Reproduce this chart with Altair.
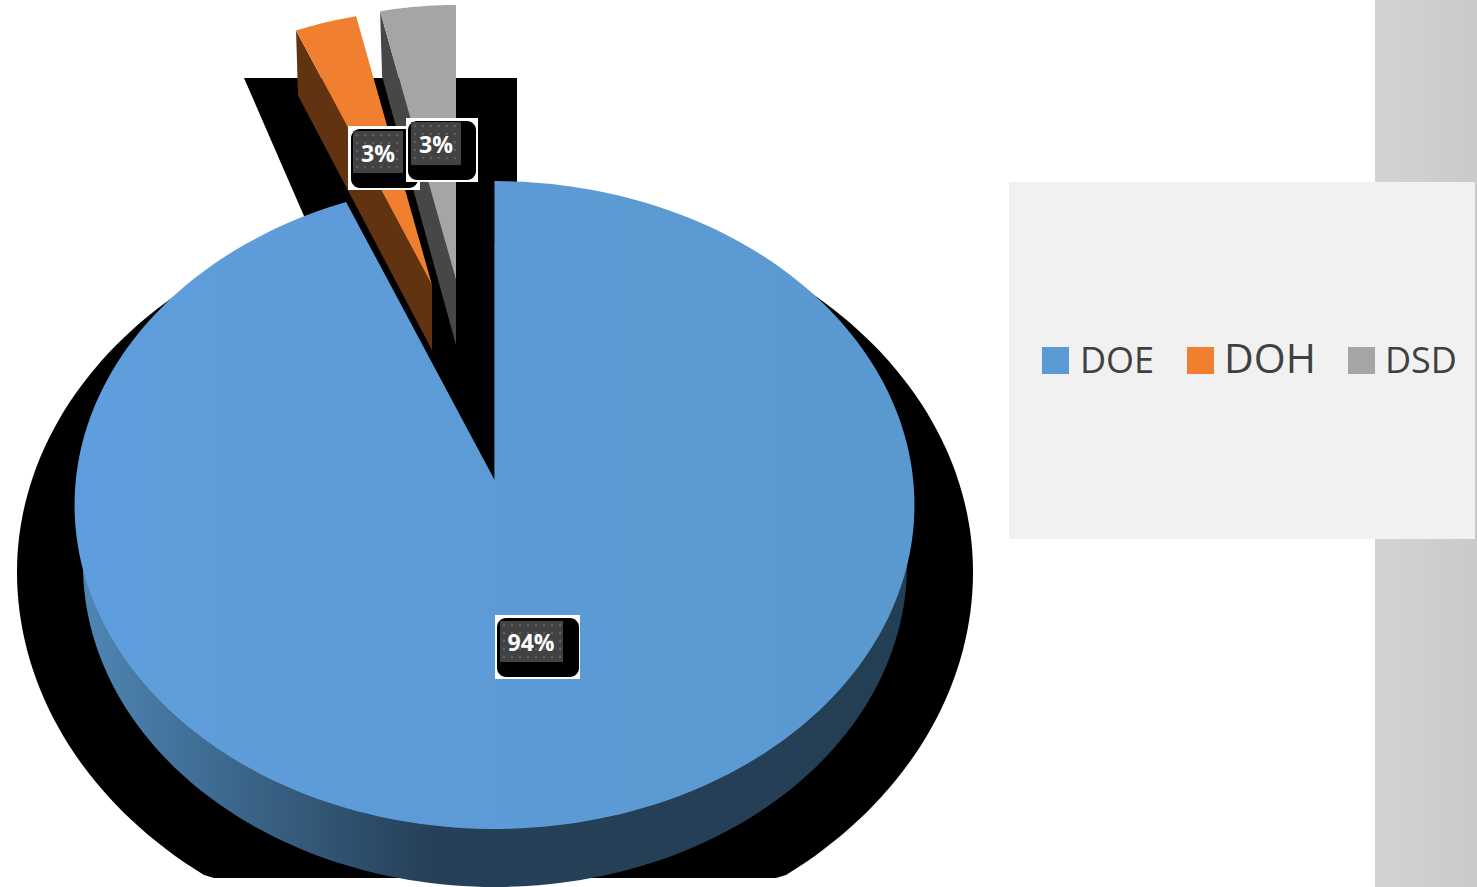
import altair as alt
import numpy as np
import pandas as pd

# Shares of the whole, and their legend order
departments = ["DOE", "DOH", "DSD"]
shares = [0.938, 0.028, 0.034]
slice_colors = ["#5B9BD5", "#F08030", "#A5A5A5"]
side_colors = ["#243E54", "#623310", "#474747"]
legend_font_sizes = [36, 41, 36]

W, H = 1477, 887
x_scale = alt.Scale(domain=[0, W], range=[0, W], nice=False, zero=False)
y_scale = alt.Scale(domain=[0, H], range=[0, H], nice=False, zero=False)

# Tilted disc: a unit circle seen in perspective from its centre point
DISC = dict(cx=494.5, cy=480, a=418.7, b=322.0, k=0.0772)
FLAT = dict(rx=358, ry=275)
DEPTH = 65


def disc_edge(turn):
    t = 2 * np.pi * turn
    w = 1 + DISC["k"] * np.cos(t)
    return (DISC["cx"] - DISC["a"] * np.sin(t) / w,
            DISC["cy"] - DISC["b"] * np.cos(t) / w)


def polygon(xs, ys, name):
    return pd.DataFrame({"x": xs, "y": ys, "i": np.arange(len(xs)), "shape": name})


def filled(df, fill, **kw):
    return alt.Chart(df).mark_line(
        filled=True, fill=fill, stroke=None, interpolate="linear", clip=True, **kw
    ).encode(
        x=alt.X("x:Q", scale=x_scale, axis=None),
        y=alt.Y("y:Q", scale=y_scale, axis=None),
        order="i:Q",
    )


def ellipse(cx, cy, rx, ry, name, ry_upper=None):
    t = np.linspace(0, 2 * np.pi, 241)
    sin_t = np.sin(t)
    radius = np.where(sin_t < 0, ry if ry_upper is None else ry_upper, ry)
    return polygon(cx + rx * np.cos(t), cy + radius * sin_t, name)


def box(x, x2, y, y2, fill, radius=0):
    df = pd.DataFrame({"x": [x], "x2": [x2], "y": [y], "y2": [y2]})
    return alt.Chart(df).mark_rect(fill=fill, cornerRadius=radius, clip=True).encode(
        x=alt.X("x:Q", scale=x_scale, axis=None), x2="x2:Q",
        y=alt.Y("y:Q", scale=y_scale, axis=None), y2="y2:Q",
    )


layers = []

# Background strip and legend panel
strip = alt.Gradient(
    gradient="linear", x1=0, x2=1, y1=0, y2=0,
    stops=[alt.GradientStop(offset=0, color="#D3D3D3"),
           alt.GradientStop(offset=1, color="#CACACA")],
)
layers.append(box(1375, W, 0, H, strip))
layers.append(box(1009, W - 2, 182, 539, "#F1F1F1"))

# Cast shadow of the disc, cut off near the lower edge of the drawing
shadow = ellipse(495, 572, 478, 382, "shadow", ry_upper=372)
shadow["y"] = shadow["y"].clip(upper=878)
layers.append(filled(shadow, "#000000"))

# Cast shadow of the two pulled-out slices
sweep = np.radians(np.linspace(0, 19, 40))
sx = 517 - 1100 * np.sin(sweep)
sy = 706 - 850 * np.cos(sweep)
slice_shadow = polygon(
    np.r_[517, np.clip(sx, 244, None)],
    np.r_[706, np.clip(sy, 78, None)],
    "slice shadow",
)
layers.append(filled(slice_shadow, "#000000"))

# Side wall of the disc
wall_fill = alt.Gradient(
    gradient="linear", x1=0, x2=1, y1=0, y2=0,
    stops=[alt.GradientStop(offset=0, color="#4F86B4"),
           alt.GradientStop(offset=0.2, color="#3A6488"),
           alt.GradientStop(offset=0.42, color="#264059"),
           alt.GradientStop(offset=1, color=side_colors[0])],
)
layers.append(filled(ellipse(495, 565, 412, 322, "wall"), wall_fill))

# Dark gap left behind by the two pulled-out slices
start = shares[1] + shares[2]
gap_x, gap_y = disc_edge(np.linspace(0, start, 24))
layers.append(filled(
    polygon(np.r_[DISC["cx"], gap_x], np.r_[DISC["cy"], gap_y], "gap"), "#000000"
))

# Top of the large slice; it starts where the two small slices end
turns = np.linspace(start, 1, 240)
ex, ey = disc_edge(turns)
top_fill = alt.Gradient(
    gradient="linear", x1=0, x2=1, y1=0, y2=0,
    stops=[alt.GradientStop(offset=0, color="#5F9EDC"),
           alt.GradientStop(offset=1, color="#5A98D0")],
)
layers.append(filled(
    polygon(np.r_[DISC["cx"], ex], np.r_[DISC["cy"], ey], departments[0]), top_fill
))

# Pulled-out slices: side face first, then the top face
apexes = {"DOH": (432, 285), "DSD": (456, 280)}
ranges = {"DOH": (shares[2], shares[2] + shares[1]), "DSD": (0.0, shares[2])}
for name, color, side in zip(departments[1:], slice_colors[1:], side_colors[1:]):
    ax, ay = apexes[name]
    lo, hi = ranges[name]
    t = 2 * np.pi * np.linspace(lo, hi, 24)
    ox = ax - FLAT["rx"] * np.sin(t)
    oy = ay - FLAT["ry"] * np.cos(t)
    layers.append(filled(polygon(
        [ox[-1], ox[-1] + 2, ax, ax],
        [oy[-1], oy[-1] + DEPTH, ay + DEPTH, ay],
        name + " side"), side))
    layers.append(filled(polygon(np.r_[ax, ox], np.r_[ay, oy], name), color))


def data_label(share, white, black, panel, text_at, font_size):
    parts = [
        box(*white, "#FFFFFF"),
        box(*black, "#000000", radius=9),
        box(*panel, "#424242"),
    ]
    # Dotted texture of the label panel
    gx = np.arange(panel[0] + 4, panel[1] - 1, 8)
    gy = np.arange(panel[2] + 4, panel[3] - 1, 8)
    dots = pd.DataFrame(
        [{"x": a, "y": b} for a in gx for b in gy]
    )
    parts.append(
        alt.Chart(dots).mark_square(size=5, color="#5E5E5E", opacity=1).encode(
            x=alt.X("x:Q", scale=x_scale, axis=None),
            y=alt.Y("y:Q", scale=y_scale, axis=None),
        )
    )
    text_df = pd.DataFrame({"x": [text_at[0]], "y": [text_at[1]], "share": [share]})
    parts.append(
        alt.Chart(text_df).mark_text(
            font="Open Sans", fontWeight="bold", fontSize=font_size,
            color="#FFFFFF", align="center", baseline="middle",
        ).encode(
            x=alt.X("x:Q", scale=x_scale, axis=None),
            y=alt.Y("y:Q", scale=y_scale, axis=None),
            text=alt.Text("share:Q", format=".0%"),
        )
    )
    return parts


layers += data_label(shares[1], (348, 420, 126, 190), (351, 418, 129, 188),
                     (353, 403, 131, 173), (378, 155), 23)
layers += data_label(shares[2], (406, 478, 118, 182), (408, 476, 121, 180),
                     (411, 461, 122, 165), (436, 146), 23)
layers += data_label(shares[0], (495, 580, 615, 679), (497, 579, 618, 677),
                     (500, 563, 621, 662), (531, 644), 23)

# Legend row, one key and name per department
legend = pd.DataFrame({
    "name": departments,
    "color": slice_colors,
    "size": legend_font_sizes,
    "x": [1042, 1187, 1348],
    "tx": [1080, 1224, 1385],
})
legend["x2"] = legend["x"] + 27
legend["y"] = 347
legend["y2"] = 374
legend["base"] = 373
layers.append(
    alt.Chart(legend).mark_rect().encode(
        x=alt.X("x:Q", scale=x_scale, axis=None), x2="x2:Q",
        y=alt.Y("y:Q", scale=y_scale, axis=None), y2="y2:Q",
        fill=alt.Fill("color:N", scale=None),
    )
)
layers.append(
    alt.Chart(legend).mark_text(
        font="Open Sans", color="#404040", align="left", baseline="alphabetic",
    ).encode(
        x=alt.X("tx:Q", scale=x_scale, axis=None),
        y=alt.Y("base:Q", scale=y_scale, axis=None),
        text="name:N",
        size=alt.Size("size:Q", scale=None),
    )
)

chart = alt.layer(*layers).properties(
    width=W, height=H, padding=0, background="#FFFFFF",
    autosize=alt.AutoSizeParams(type="none"),
).configure_view(stroke=None)

chart.save("out.html", embed_options={"renderer": "svg", "actions": False})
